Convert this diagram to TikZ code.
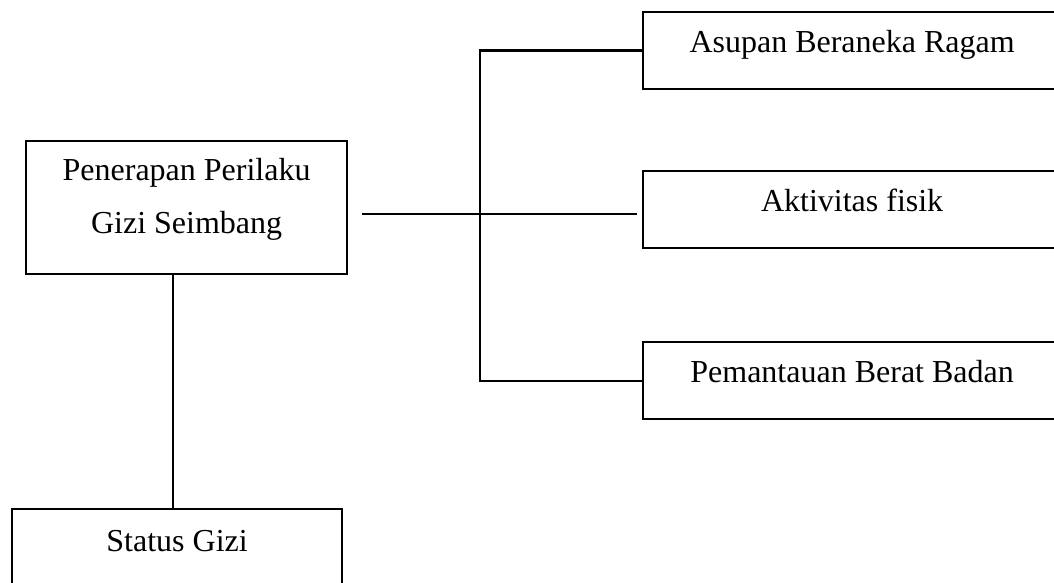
\documentclass[tikz,border=0pt]{standalone}
\usepackage{fontspec}
\setmainfont{Liberation Serif}
\usepackage{tikz}

\begin{document}
\begin{tikzpicture}[x=0.5pt, y=-0.5pt, line width=1.1pt, font=\fontsize{16}{26.5}\selectfont,
	box/.style = {shape=rectangle, draw, align=center, anchor=north west, inner sep=0pt, text height=20pt, text depth=18.5pt},
	leftbox/.style = {box, minimum width=160.5pt},
	rightbox/.style = {box, minimum width=209pt}]
	\useasboundingbox (0,0) rectangle (1054,583);
	\node[leftbox, text height=46pt, text depth=20.5pt] (pen) at (25,140) {Penerapan Perilaku\\Gizi Seimbang};
	\node[box, minimum width=165pt, text height=21pt, text depth=21.5pt] (sg) at (11,508) {Status Gizi};
	\node[rightbox] (asp) at (642,11) {Asupan Beraneka Ragam};
	\node[rightbox] (akt) at (642,170) {Aktivitas fisik};
	\node[rightbox] (pem) at (642,341) {Pemantauan Berat Badan};
	\coordinate (hl) at (362,214);
	\coordinate (hr) at (637,214);
	\coordinate (spine) at (480,214);
	\draw (hl) -- (hr);
	\draw (asp.west) -| (spine) |- (pem.west);
	\draw ([xshift=-7pt]pen.south) -- ([xshift=-7pt]pen.south |- sg.north);
\end{tikzpicture}
\end{document}
